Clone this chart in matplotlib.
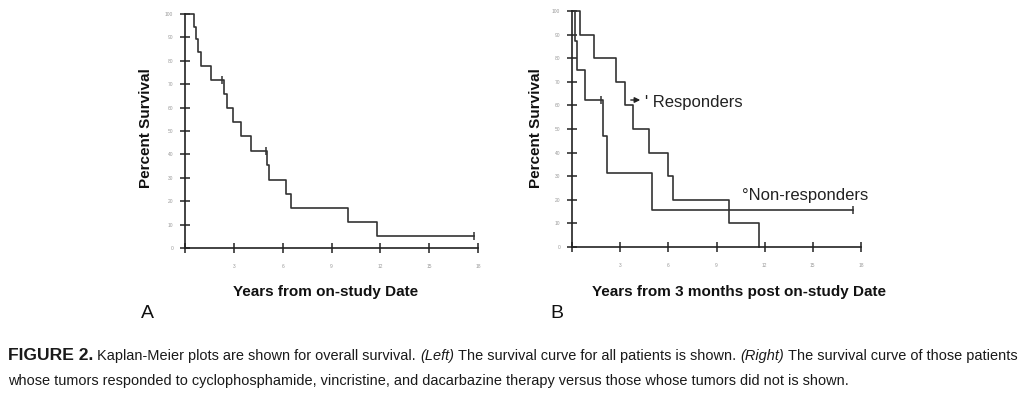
import numpy as np
import matplotlib.pyplot as plt

# ---- data ----
yticks = [0, 10, 20, 30, 40, 50, 60, 70, 80, 90, 100]
xticks = [0, 3, 6, 9, 12, 15, 18]
xtick_labels = ['', '3', '6', '9', '12', '15', '18']

# panel A: all patients
t_all = [0, 0.58, 0.66, 0.78, 0.98, 1.60, 2.42, 2.56, 2.97, 3.44, 4.04, 5.02, 5.18, 6.19, 6.52, 10.0, 11.8, 17.75]
s_all = [100, 94.4, 89.3, 83.6, 77.6, 71.9, 65.8, 59.8, 53.8, 47.7, 41.6, 35.3, 29.2, 23.1, 17.1, 11.0, 5.0, 5.0]
cens_all_t = [2.25, 4.95, 17.75]
cens_all_s = [71.9, 41.6, 5.0]

# panel B: responders / non-responders
t_resp = [0, 0.50, 1.35, 2.77, 3.29, 3.79, 4.79, 5.97, 6.29, 9.78, 11.63]
s_resp = [100, 90, 80, 70, 60, 50, 40, 30, 20, 10, 0]
t_non = [0, 0.20, 0.32, 0.80, 1.90, 2.20, 4.98, 17.5]
s_non = [100, 87.5, 75, 62.5, 46.9, 31.25, 15.6, 15.6]
cens_non_t = [1.80, 17.5]
cens_non_s = [62.5, 15.6]

W, H = 1024, 397
line_c = '#333333'
fig = plt.figure(figsize=(W / 100, H / 100), dpi=100)
plt.rcParams['font.family'] = ['Liberation Sans', 'DejaVu Sans']


def px(x, y):
    return x / W, 1 - y / H


def make_axes(x0, x1, ytop, ybot):
    ax = fig.add_axes([x0 / W, 1 - ybot / H, (x1 - x0) / W, (ybot - ytop) / H])
    ax.set_xlim(0, 18)
    ax.set_ylim(0, 100)
    for s in ['top', 'right']:
        ax.spines[s].set_visible(False)
    for s in ['left', 'bottom']:
        ax.spines[s].set_linewidth(1.2)
        ax.spines[s].set_color('#222222')
    ax.set_xticks(xticks)
    ax.set_xticklabels(xtick_labels)
    ax.set_yticks(yticks)
    ax.tick_params(direction='inout', length=7, width=1.1, color='#222222',
                   labelsize=3.5, labelcolor='#999999')
    ax.tick_params(axis='x', pad=8)
    ax.tick_params(axis='y', pad=5)
    return ax


# ---- A ----
ax1 = make_axes(185, 478, 14, 248)
ax1.step(t_all, s_all, where='post', color=line_c, lw=1.2, clip_on=False)
ax1.plot(cens_all_t, cens_all_s, ls='none', marker='|', ms=6, mew=1.1, color=line_c, clip_on=False)

# ---- B ----
ax2 = make_axes(572, 861, 11, 247)
ax2.step(t_resp, s_resp, where='post', color=line_c, lw=1.2, clip_on=False)
ax2.step(t_non, s_non, where='post', color=line_c, lw=1.2, clip_on=False)
ax2.plot(cens_non_t, cens_non_s, ls='none', marker='|', ms=6, mew=1.1, color=line_c, clip_on=False)

ax2.annotate('', xy=px(643, 100), xycoords='figure fraction',
             xytext=px(628, 100), textcoords='figure fraction',
             arrowprops=dict(arrowstyle='-|>', color='#222222', lw=1.0, mutation_scale=8))
fig.text(*px(645, 103), "' Responders", fontsize=12, va='center', ha='left', color='#222222')
fig.text(*px(742, 195), '\u00b0Non-responders', fontsize=12, va='center', ha='left', color='#222222')

# axis labels
fig.text(*px(146, 128), 'Percent Survival', rotation=90, fontsize=11, fontweight='bold',
         ha='center', va='center', color='#111111')
fig.text(*px(536, 128), 'Percent Survival', rotation=90, fontsize=11, fontweight='bold',
         ha='center', va='center', color='#111111')
fig.text(*px(326, 292), 'Years from on-study Date', fontsize=11, fontweight='bold',
         ha='center', va='center', color='#111111')
fig.text(*px(739, 292), 'Years from 3 months post on-study Date', fontsize=11, fontweight='bold',
         ha='center', va='center', color='#111111')
fig.text(*px(147, 314), 'A', fontsize=14, ha='center', va='center', color='#111111')
fig.text(*px(557, 314), 'B', fontsize=14, ha='center', va='center', color='#111111')

# ---- caption, built piece by piece ----
cap_font = ['Liberation Sans', 'DejaVu Sans']
renderer = fig.canvas.get_renderer()

line1 = [('FIGURE 2.', dict(fontweight='bold', scale=1.2)),
         ('Kaplan-Meier plots are shown for overall survival.', {}),
         ('(Left)', dict(style='italic')),
         ('The survival curve for all patients is shown.', {}),
         ('(Right)', dict(style='italic')),
         ('The survival curve of those patients', {})]
line2 = [('whose tumors responded to cyclophosphamide, vincristine, and dacarbazine therapy versus those whose tumors did not is shown.', {})]


def width_of(s, size, **kw):
    t = fig.text(0, 0, s, family=cap_font, fontsize=size, **kw)
    w = t.get_window_extent(renderer).width
    t.remove()
    return w


def line_width(pieces, size):
    sp = width_of('x x', size) - width_of('xx', size)
    tot = 0
    for s, kw in pieces:
        kw = dict(kw)
        sc = kw.pop('scale', 1.0)
        tot += width_of(s, size * sc, **kw) + sp
    return tot - sp


def write_line(pieces, x, y, size):
    sp = width_of('x x', size) - width_of('xx', size)
    for s, kw in pieces:
        kw = dict(kw)
        sc = kw.pop('scale', 1.0)
        t = fig.text(*px(x, y), s, family=cap_font, fontsize=size * sc, va='center', ha='left',
                     color='#1a1a1a', **kw)
        x = t.get_window_extent(renderer).x1 + sp


# pick the caption size so the first line runs from x=8 to x=1018
cap_size = 10 * (1010 / line_width(line1, 10))
write_line(line1, 8, 356, cap_size)
write_line(line2, 8, 381, cap_size)

fig.savefig('out.png', dpi=100)
